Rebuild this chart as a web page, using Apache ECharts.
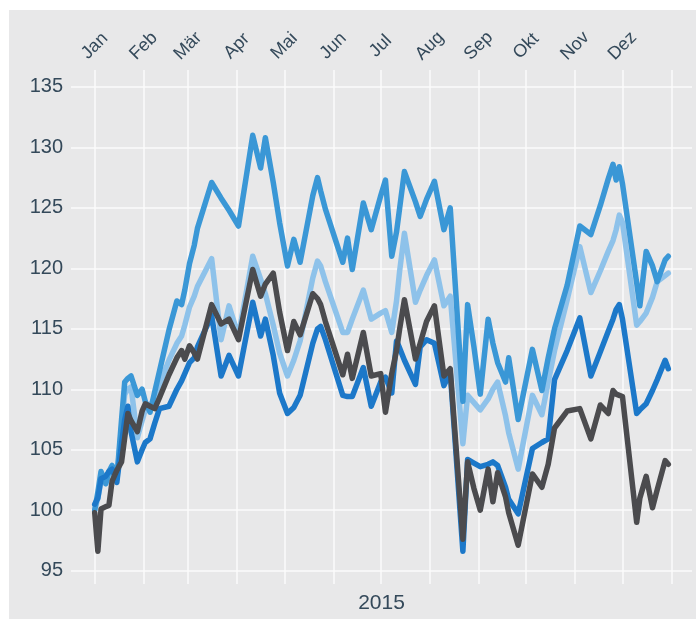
<!DOCTYPE html>
<html>
<head>
<meta charset="utf-8">
<script src="https://cdn.jsdelivr.net/npm/echarts@6/dist/echarts.min.js"></script>
<style>
  body { margin: 0; background: #fff; }
  #wrap { position: relative; width: 696px; height: 619px; background: #fff; }
  #main { position: absolute; left: 9px; top: 10px; width: 687px; height: 609px; background: #e8e8e9; }
</style>
</head>
<body>
<div id="wrap"><div id="main"></div></div>
<script>
// Tag im Jahr 2015 (0 = 1. Jan)
var days = [0,2,4,7,9,11,14,17,19,21,23,27,30,32,35,38,41,47,52,55,57,60,63,65,74,80,85,91,100,105,
    108,113,117,122,126,130,138,141,143,146,157,160,163,170,175,181,184,188,191,193,196,203,206,210,215,221,225,
    233,236,240,244,249,252,255,260,262,268,277,283,287,291,299,307,314,320,325,328,330,332,334,343,345,349,353,356,361,363];

var months = ['Jan', 'Feb', 'Mär', 'Apr', 'Mai', 'Jun', 'Jul', 'Aug', 'Sep', 'Okt', 'Nov', 'Dez'];
var monthStarts = [0, 31, 59, 90, 120, 151, 181, 212, 243, 273, 304, 334];
var yTicks = [95, 100, 105, 110, 115, 120, 125, 130, 135];

var mittelblau = [100.0,101.5,103.2,102.2,103.2,103.7,102.6,107.5,110.6,110.9,111.1,109.5,110.0,109.0,108.1,109.8,111.5,114.9,117.3,117.0,
    118.2,120.4,121.9,123.3,127.1,125.8,124.8,123.5,131.0,128.3,130.8,127.1,123.8,120.2,122.4,120.5,126.0,127.5,126.4,124.9,
    120.5,122.5,119.9,125.4,123.2,126.0,127.3,121.0,123.0,125.0,128.0,125.5,124.3,125.7,127.2,123.2,125.0,
    109.0,117.0,113.5,109.6,115.8,113.8,112.2,110.6,112.6,107.5,113.3,109.9,112.6,115.0,118.6,123.5,122.8,125.2,127.4,128.6,127.3,128.4,127.0,
    118.8,116.9,121.4,120.2,118.9,120.7,121.0];

var hellblau = [100.0,101.0,102.4,102.2,103.0,103.3,102.6,106.8,109.6,110.0,110.2,106.0,107.4,108.3,108.5,109.4,110.4,112.4,113.8,114.4,
    115.3,116.8,117.7,118.5,120.8,114.1,116.9,114.4,121.0,119.1,117.9,115.3,113.0,111.1,112.4,114.0,119.2,120.6,120.2,118.9,
    114.7,114.7,115.8,118.2,115.8,116.3,116.5,114.7,117.3,119.8,122.9,117.2,118.2,119.4,120.7,116.9,117.7,
    105.5,109.5,108.9,108.3,109.2,110.0,110.6,107.8,106.4,103.4,109.5,107.9,110.6,113.2,117.4,121.8,118.0,119.8,121.4,122.3,123.2,124.4,123.8,
    115.3,115.6,116.3,117.6,118.9,119.4,119.6];

var dunkelblau = [100.5,101.0,102.6,102.8,103.2,103.4,102.3,105.5,107.5,108.6,106.5,104.0,105.0,105.6,105.9,107.2,108.4,108.6,110.0,110.7,
    111.3,112.2,112.6,113.5,116.1,111.1,112.8,111.1,117.2,114.4,115.8,112.8,109.7,108.0,108.5,109.5,113.8,115.0,115.2,114.1,
    109.5,109.4,109.4,111.8,108.6,110.6,111.0,109.7,114.0,113.4,112.4,110.4,113.5,114.1,113.8,110.3,111.4,
    96.6,104.2,103.9,103.6,103.8,104.0,103.7,101.9,100.9,99.7,105.1,105.6,105.9,110.8,113.2,115.9,111.1,113.1,114.8,115.8,116.6,117.0,115.8,
    108.0,108.3,108.8,109.9,110.8,112.4,111.7];

var grau = [99.8,96.6,100.1,100.3,100.4,102.4,103.3,104.0,106.0,108.0,107.4,106.5,108.2,108.8,108.6,108.4,109.3,111.2,112.6,113.2,
    112.5,113.6,113.0,112.5,117.0,115.4,115.8,114.1,119.9,117.7,118.7,119.6,116.4,113.2,115.6,114.5,117.9,117.5,117.0,115.6,
    111.2,112.9,110.9,114.7,111.1,111.3,108.1,111.3,113.2,115.0,117.4,112.5,113.8,115.6,116.9,111.1,111.7,
    97.6,104.0,101.8,100.0,103.4,100.7,103.1,101.1,99.8,97.1,103.0,101.9,103.8,106.8,108.2,108.4,105.9,108.7,108.0,109.9,109.6,109.5,109.4,
    99.0,101.0,102.8,100.2,101.7,104.1,103.8];

function pairs(vals) {
    return days.map(function (d, i) { return [d, vals[i]]; });
}

var textColor = '#34495a';
var fontFam = '"Liberation Sans", Arial, sans-serif';

var myChart = echarts.init(document.getElementById('main'));

function linie(name, vals, color) {
    return {
        name: name,
        type: 'line',
        data: pairs(vals),
        showSymbol: false,
        lineStyle: { color: color, width: 5.5, join: 'round', cap: 'round' },
        itemStyle: { color: color }
    };
}

option = {
    animation: false,
    backgroundColor: 'transparent',
    grid: { left: 62, right: 4, top: 60, bottom: 34 },
    xAxis: [
        {
            type: 'value',
            position: 'top',
            min: -15,
            max: 378,
            axisLine: { show: false },
            axisTick: { show: false, customValues: monthStarts.concat([365]) },
            axisLabel: {
                customValues: monthStarts,
                rotate: -45,
                align: 'center',
                verticalAlign: 'middle',
                margin: 24,
                fontSize: 18,
                fontFamily: fontFam,
                color: textColor,
                formatter: function (v) { return months[monthStarts.indexOf(v)]; }
            },
            splitLine: { show: true, lineStyle: { color: '#fbfbfb', width: 1.5 } }
        },
        {
            type: 'value',
            position: 'bottom',
            min: -15,
            max: 378,
            name: '2015',
            nameLocation: 'middle',
            nameGap: 9,
            nameTextStyle: { fontSize: 21, fontFamily: fontFam, color: textColor },
            axisLine: { show: false },
            axisTick: { show: false },
            axisLabel: { show: false },
            splitLine: { show: false }
        }
    ],
    yAxis: {
        type: 'value',
        min: 93.9,
        max: 136.4,
        axisLine: { show: false },
        axisTick: { show: false, customValues: yTicks },
        axisLabel: {
            customValues: yTicks,
            margin: 8,
            fontSize: 20,
            fontFamily: fontFam,
            color: textColor
        },
        splitLine: { show: true, lineStyle: { color: '#fbfbfb', width: 1.5 } }
    },
    series: [
        linie('hell', hellblau, '#8ec2ea'),
        linie('mittel', mittelblau, '#3a97d6'),
        linie('dunkel', dunkelblau, '#1c78c9'),
        linie('grau', grau, '#4b4b4e')
    ]
};

myChart.setOption(option);
</script>
</body>
</html>
